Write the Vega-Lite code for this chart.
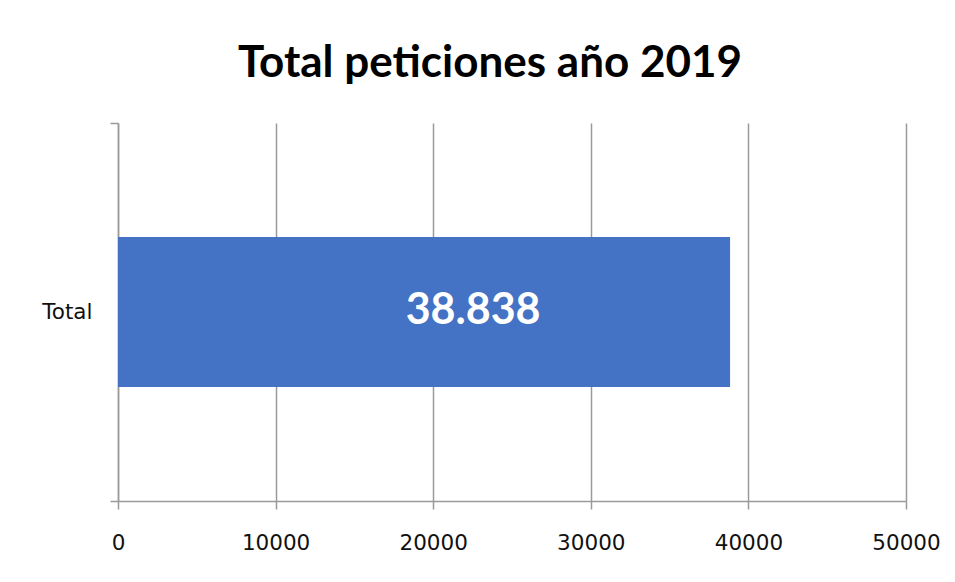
{
  "$schema": "https://vega.github.io/schema/vega-lite/v6.json",
  "autosize": "none",
  "width": 788,
  "height": 378,
  "padding": {"left": 118, "top": 123, "right": 49, "bottom": 81},
  "background": "white",
  "title": {
    "text": "Total peticiones año 2019",
    "font": "Lato",
    "fontWeight": "bold",
    "fontSize": 44,
    "color": "#000000",
    "anchor": "middle",
    "dx": -22,
    "offset": 26
  },
  "config": {
    "view": {"stroke": null},
    "axis": {
      "labelFont": "DejaVu Sans",
      "labelFontSize": 21.5,
      "labelColor": "#111111",
      "domainColor": "#9a9a9a",
      "tickColor": "#9a9a9a",
      "gridColor": "#9a9a9a",
      "tickSize": 8,
      "domainWidth": 1.5,
      "tickWidth": 1.5,
      "gridWidth": 1.5
    }
  },
  "data": {"values": [{"categoria": "Total", "valor": 38838, "etiqueta": "38.838"}]},
  "layer": [
    {
      "mark": {"type": "bar", "color": "#4472C4", "height": {"band": 0.397}},
      "encoding": {
        "y": {
          "field": "categoria",
          "type": "nominal",
          "title": null,
          "scale": {"paddingInner": 0, "paddingOuter": 0},
          "axis": {"tickBand": "extent", "labelPadding": 18, "labelAngle": 0}
        },
        "x": {
          "field": "valor",
          "type": "quantitative",
          "title": null,
          "scale": {"domain": [0, 50000], "nice": false},
          "axis": {"values": [0, 10000, 20000, 30000, 40000, 50000], "format": "d", "grid": true, "labelPadding": 23, "labelFlush": false}
        }
      }
    },
    {
      "mark": {"type": "text", "color": "white", "font": "Lato", "fontWeight": "bold", "fontSize": 43, "align": "center", "baseline": "middle", "dx": -257, "dy": -1},
      "encoding": {
        "y": {"field": "categoria", "type": "nominal"},
        "x": {"field": "valor", "type": "quantitative"},
        "text": {"field": "etiqueta"}
      }
    }
  ]
}
